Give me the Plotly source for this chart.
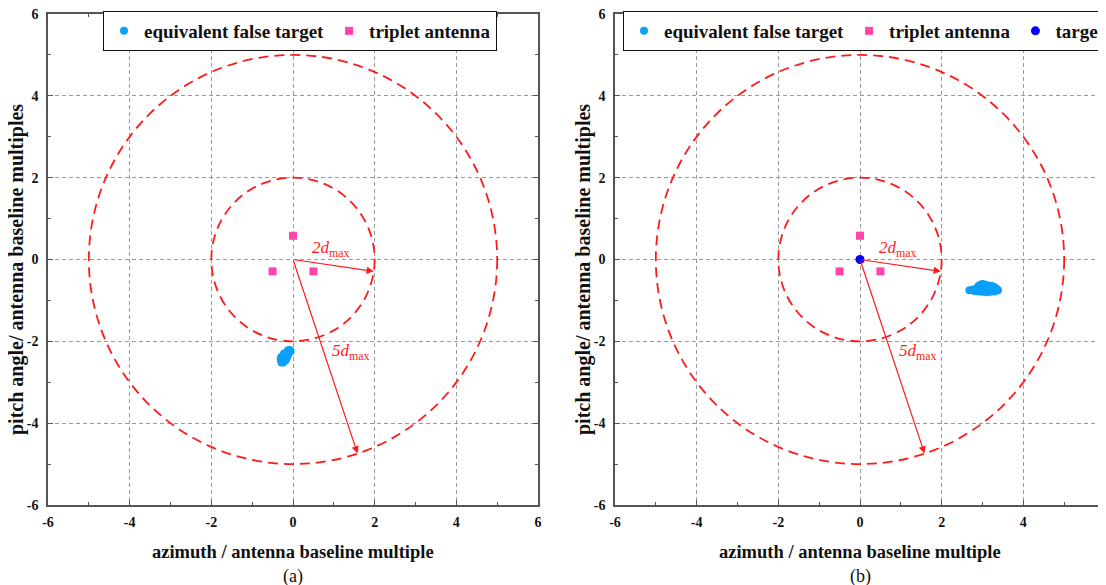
import plotly.graph_objects as go

# ---------------- data ----------------
tick_vals = [-6, -4, -2, 0, 2, 4, 6]
tick_text = ["-6", "-4", "-2", "0", "2", "4", "6"]

antenna_x = [0.0, -0.5, 0.5]
antenna_y = [0.58, -0.29, -0.29]

false_a_x = [-0.06, -0.08, -0.10, -0.12, -0.14, -0.16, -0.18, -0.20, -0.22, -0.24,
             -0.26, -0.28, -0.30, -0.12, -0.18, -0.24, -0.29, -0.22, -0.28, -0.15]
false_a_y = [-2.24, -2.21, -2.26, -2.22, -2.30, -2.27, -2.34, -2.38, -2.42, -2.45,
             -2.48, -2.50, -2.44, -2.33, -2.46, -2.52, -2.38, -2.30, -2.52, -2.40]

false_b_x = [2.68, 2.75, 2.82, 2.90, 2.95, 3.00, 3.05, 3.10, 3.15, 3.20, 3.25,
             3.30, 3.35, 2.90, 3.00, 3.10, 3.20, 3.30, 2.95, 3.15, 3.38, 2.80]
false_b_y = [-0.75, -0.74, -0.72, -0.65, -0.62, -0.60, -0.62, -0.63, -0.64, -0.64,
             -0.66, -0.68, -0.72, -0.78, -0.79, -0.80, -0.79, -0.78, -0.72, -0.72,
             -0.75, -0.77]

target_x = [0.0]
target_y = [0.0]

circle_radii = [2, 5]
arrow_end_x = [1.98, 1.58]
arrow_end_y = [-0.29, -4.74]
arrow_labels = ["<i>2d</i><sub>max</sub>", "<i>5d</i><sub>max</sub>"]
label_x = [0.92, 1.42]
label_y = [0.25, -2.25]

panel_labels = ["(a)", "(b)"]
x_title = "azimuth / antenna baseline multiple"
y_title = "pitch angle/ antenna baseline multiples"

# ---------------- styling ----------------
OFF = 8  # default body margin of the html page
W, H = 1106 - OFF, 585 - OFF
SERIF = "Liberation Serif, Times New Roman, serif"
FALSE_C = "#0aa0f8"
ANT_C = "#ff44aa"
TGT_C = "#0000ff"
RED = "#ff1a1a"
INK = "#111111"


def px_x(p):
    return (p - OFF) / W


def px_y(p):
    return 1 - (p - OFF) / H


panels = [
    dict(x0=48, x1=538, xc=293, leg_x=103),
    dict(x0=615, x1=1105, xc=860, leg_x=623),
]
ydom = [px_y(505), px_y(14)]

fig = go.Figure()

# panel (a)
fig.add_trace(go.Scatter(x=false_a_x, y=false_a_y, mode="markers", name="equivalent false target",
                         marker=dict(color=FALSE_C, size=8, symbol="circle"),
                         xaxis="x", yaxis="y", legend="legend"))
fig.add_trace(go.Scatter(x=antenna_x, y=antenna_y, mode="markers", name="triplet antenna",
                         marker=dict(color=ANT_C, size=8, symbol="square"),
                         xaxis="x", yaxis="y", legend="legend"))
# panel (b)
fig.add_trace(go.Scatter(x=false_b_x, y=false_b_y, mode="markers", name="equivalent false target",
                         marker=dict(color=FALSE_C, size=8, symbol="circle"),
                         xaxis="x2", yaxis="y2", legend="legend2"))
fig.add_trace(go.Scatter(x=antenna_x, y=antenna_y, mode="markers", name="triplet antenna",
                         marker=dict(color=ANT_C, size=8, symbol="square"),
                         xaxis="x2", yaxis="y2", legend="legend2"))
fig.add_trace(go.Scatter(x=target_x, y=target_y, mode="markers", name="target",
                         marker=dict(color=TGT_C, size=9, symbol="circle"),
                         xaxis="x2", yaxis="y2", legend="legend2"))

axis_common = dict(
    range=[-6, 6], tickmode="array", tickvals=tick_vals, ticktext=tick_text,
    ticks="inside", ticklen=5, tickwidth=1, tickcolor="#555",
    minor=dict(dtick=1, tick0=-6, ticks="inside", ticklen=3, tickcolor="#555", showgrid=False),
    showgrid=True, gridcolor="#9a9a9a", gridwidth=1, griddash="4px,3px",
    showline=True, linecolor="#555", linewidth=1.5, mirror="allticks",
    zeroline=False, fixedrange=True,
    tickfont=dict(family=SERIF, size=14, color=INK, weight="bold"),
    ticklabeloverflow="allow",
    automargin=False,
)

layout = dict(
    width=W, height=H, margin=dict(l=0, r=0, t=0, b=0, autoexpand=False),
    paper_bgcolor="white", plot_bgcolor="white", showlegend=True,
)
shapes = []
annotations = []
for i, p in enumerate(panels):
    sx = "" if i == 0 else "2"
    layout["xaxis" + sx] = dict(axis_common, domain=[px_x(p["x0"]), px_x(p["x1"])],
                                anchor="y" + sx, ticklabelstandoff=3)
    layout["yaxis" + sx] = dict(axis_common, domain=ydom, anchor="x" + sx, ticklabelstandoff=5)
    xr, yr = "x" + sx, "y" + sx
    for r in circle_radii:
        shapes.append(dict(type="circle", xref=xr, yref=yr, x0=-r, y0=-r, x1=r, y1=r,
                           line=dict(color=RED, width=1.8, dash="10px,6px"), layer="above"))
    for ex, ey in zip(arrow_end_x, arrow_end_y):
        annotations.append(dict(x=ex, y=ey, ax=0, ay=0, xref=xr, yref=yr, axref=xr, ayref=yr,
                                text="", showarrow=True, arrowhead=2, arrowsize=1.2,
                                arrowwidth=1.2, arrowcolor=RED, standoff=0))
    for t, lx, ly in zip(arrow_labels, label_x, label_y):
        annotations.append(dict(x=lx, y=ly, xref=xr, yref=yr, text=t, showarrow=False,
                                xanchor="center", yanchor="middle",
                                font=dict(family=SERIF, size=17, color=RED)))
    # axis titles
    annotations.append(dict(x=px_x(p["xc"]), y=px_y(552), xref="paper", yref="paper",
                            xanchor="center", yanchor="middle",
                            text=x_title, showarrow=False,
                            font=dict(family=SERIF, size=18.5, color=INK, weight="bold")))
    annotations.append(dict(x=px_x(p["x0"] - 31), y=px_y(270), xref="paper", yref="paper",
                            xanchor="center", yanchor="middle",
                            text=y_title, showarrow=False, textangle=-90,
                            font=dict(family=SERIF, size=20, color=INK, weight="bold")))
    annotations.append(dict(x=px_x(p["xc"]), y=px_y(576), xref="paper", yref="paper",
                            xanchor="center", yanchor="middle",
                            text=panel_labels[i], showarrow=False,
                            font=dict(family=SERIF, size=18, color=INK)))
    layout["legend" if i == 0 else "legend2"] = dict(
        x=px_x(p["leg_x"]), y=px_y(31), xanchor="left", yanchor="middle", orientation="h",
        bgcolor="white", bordercolor=INK, borderwidth=1,
        font=dict(family=SERIF, size=19, color=INK, weight="bold"),
        itemclick=False, itemdoubleclick=False,
    )

layout["shapes"] = shapes
layout["annotations"] = annotations
fig.update_layout(**layout)

fig.write_html("out.html")
